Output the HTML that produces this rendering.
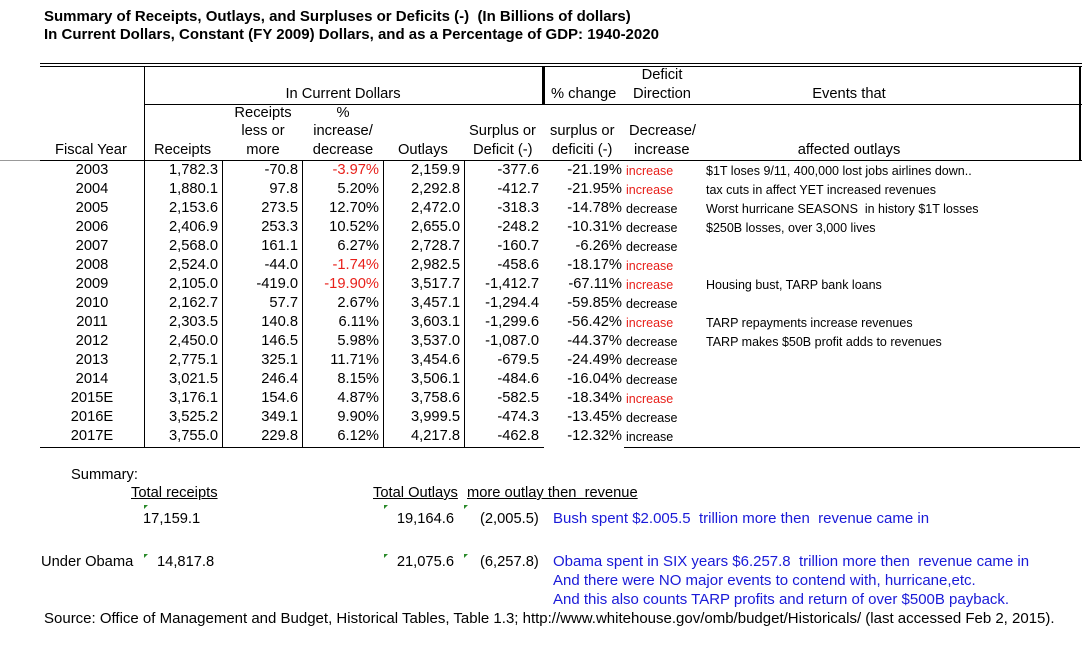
<!DOCTYPE html>
<html><head><meta charset="utf-8"><style>
body{margin:0;width:1082px;height:645px;background:#fff;position:relative;overflow:hidden;font-family:"Liberation Sans",Arial,sans-serif;font-size:14.7px;color:#000}
div{position:absolute;white-space:nowrap;line-height:16px}
.r{text-align:right;width:120px}
.c{text-align:center;width:120px}
.red{color:#e8201a}
.ev{font-size:12.5px}
.b{color:#1a1ad8;font-size:15px}
.hl{height:1px;background:#000;line-height:0}
.vl{width:1px;background:#000;line-height:0}
.g{width:0;height:0;border-top:4px solid #2a8a2a;border-right:4px solid transparent;line-height:0}
u{text-decoration:underline}
</style></head><body>
<div style="left:44px;top:9px;font-weight:bold;font-size:15px">Summary of Receipts, Outlays, and Surpluses or Deficits (-)&nbsp; (In Billions of dollars)</div>
<div style="left:44px;top:27px;font-weight:bold;font-size:15px">In Current Dollars, Constant (FY 2009) Dollars, and as a Percentage of GDP: 1940-2020</div>

<div class="hl" style="left:40px;top:63px;width:1042px"></div>
<div class="hl" style="left:40px;top:66px;width:1042px"></div>
<div class="hl" style="left:144px;top:104px;width:938px"></div>
<div class="hl" style="left:0;top:160px;width:40px;background:#999"></div>
<div class="hl" style="left:40px;top:160px;width:1042px"></div>
<div class="vl" style="left:144px;top:66px;height:381px"></div>
<div class="vl" style="left:542px;top:66px;height:39px;width:3px"></div>
<div class="vl" style="left:1079px;top:66px;height:94px;width:2px"></div>

<div class="c" style="left:283px;top:86px">In Current Dollars</div>
<div class="c" style="left:602px;top:67px">Deficit</div>
<div style="left:551px;top:86px">% change</div>
<div style="left:633px;top:86px">Direction</div>
<div class="c" style="left:789px;top:86px">Events that</div>
<div class="c" style="left:203px;top:105px">Receipts</div>
<div class="c" style="left:203px;top:123px">less or</div>
<div class="c" style="left:203px;top:142px">more</div>
<div class="c" style="left:283px;top:105px">%</div>
<div class="c" style="left:283px;top:123px">increase/</div>
<div class="c" style="left:283px;top:142px">decrease</div>
<div style="left:55px;top:142px">Fiscal Year</div>
<div style="left:154px;top:142px">Receipts</div>
<div style="left:398px;top:142px">Outlays</div>
<div style="left:469px;top:123px">Surplus or</div>
<div style="left:473px;top:142px">Deficit (-)</div>
<div style="left:550px;top:123px">surplus or</div>
<div style="left:552px;top:142px">deficiti (-)</div>
<div style="left:629px;top:123px">Decrease/</div>
<div style="left:634px;top:142px">increase</div>
<div class="c" style="left:789px;top:142px">affected outlays</div>

<div class="hl" style="left:40px;top:447px;width:504px"></div>
<div class="hl" style="left:624px;top:447px;width:456px"></div>
<div class="vl" style="left:222px;top:161px;height:286px"></div>
<div class="vl" style="left:302px;top:161px;height:286px"></div>
<div class="vl" style="left:383px;top:161px;height:286px"></div>
<div class="vl" style="left:464px;top:161px;height:286px"></div>

<div id="rows"></div>
<script>
var d=[
["2003","1,782.3","-70.8","-3.97%",1,"2,159.9","-377.6","-21.19%","increase",1,"$1T loses 9/11, 400,000 lost jobs airlines down.."],
["2004","1,880.1","97.8","5.20%",0,"2,292.8","-412.7","-21.95%","increase",1,"tax cuts in affect YET increased revenues"],
["2005","2,153.6","273.5","12.70%",0,"2,472.0","-318.3","-14.78%","decrease",0,"Worst hurricane SEASONS&nbsp; in history $1T losses"],
["2006","2,406.9","253.3","10.52%",0,"2,655.0","-248.2","-10.31%","decrease",0,"$250B losses, over 3,000 lives"],
["2007","2,568.0","161.1","6.27%",0,"2,728.7","-160.7","-6.26%","decrease",0,""],
["2008","2,524.0","-44.0","-1.74%",1,"2,982.5","-458.6","-18.17%","increase",1,""],
["2009","2,105.0","-419.0","-19.90%",1,"3,517.7","-1,412.7","-67.11%","increase",1,"Housing bust, TARP bank loans"],
["2010","2,162.7","57.7","2.67%",0,"3,457.1","-1,294.4","-59.85%","decrease",0,""],
["2011","2,303.5","140.8","6.11%",0,"3,603.1","-1,299.6","-56.42%","increase",1,"TARP repayments increase revenues"],
["2012","2,450.0","146.5","5.98%",0,"3,537.0","-1,087.0","-44.37%","decrease",0,"TARP makes $50B profit adds to revenues"],
["2013","2,775.1","325.1","11.71%",0,"3,454.6","-679.5","-24.49%","decrease",0,""],
["2014","3,021.5","246.4","8.15%",0,"3,506.1","-484.6","-16.04%","decrease",0,""],
["2015E","3,176.1","154.6","4.87%",0,"3,758.6","-582.5","-18.34%","increase",1,""],
["2016E","3,525.2","349.1","9.90%",0,"3,999.5","-474.3","-13.45%","decrease",0,""],
["2017E","3,755.0","229.8","6.12%",0,"4,217.8","-462.8","-12.32%","increase",0,""]];
var h="";
d.forEach(function(r,i){var t=162+i*19;
h+='<div class="c" style="left:32px;top:'+t+'px">'+r[0]+'</div>';
h+='<div class="r" style="left:98px;top:'+t+'px">'+r[1]+'</div>';
h+='<div class="r" style="left:178px;top:'+t+'px">'+r[2]+'</div>';
h+='<div class="r'+(r[4]?' red':'')+'" style="left:259px;top:'+t+'px">'+r[3]+'</div>';
h+='<div class="r" style="left:340px;top:'+t+'px">'+r[5]+'</div>';
h+='<div class="r" style="left:419px;top:'+t+'px">'+r[6]+'</div>';
h+='<div class="r" style="left:502px;top:'+t+'px">'+r[7]+'</div>';
h+='<div class="ev'+(r[9]?' red':'')+'" style="left:626px;top:'+(t+1)+'px">'+r[8]+'</div>';
h+='<div class="ev" style="left:706px;top:'+(t+1)+'px">'+r[10]+'</div>';});
document.getElementById("rows").innerHTML=h;
</script>

<div style="left:71px;top:467px">Summary:</div>
<div style="left:131px;top:485px"><u>Total receipts</u></div>
<div style="left:373px;top:485px"><u>Total Outlays</u></div>
<div style="left:467px;top:485px"><u>more outlay then&nbsp; revenue</u></div>
<div class="g" style="left:144px;top:505px"></div>
<div class="g" style="left:384px;top:505px"></div>
<div class="g" style="left:464px;top:505px"></div>
<div style="left:143px;top:511px">17,159.1</div>
<div class="r" style="left:334px;top:511px">19,164.6</div>
<div style="left:480px;top:511px">(2,005.5)</div>
<div class="b" style="left:553px;top:511px">Bush spent $2.005.5&nbsp; trillion more then&nbsp; revenue came in</div>
<div style="left:41px;top:554px">Under Obama</div>
<div class="g" style="left:144px;top:554px"></div>
<div class="g" style="left:384px;top:554px"></div>
<div class="g" style="left:464px;top:554px"></div>
<div style="left:157px;top:554px">14,817.8</div>
<div class="r" style="left:334px;top:554px">21,075.6</div>
<div style="left:480px;top:554px">(6,257.8)</div>
<div class="b" style="left:553px;top:554px">Obama spent in SIX years $6.257.8&nbsp; trillion more then&nbsp; revenue came in</div>
<div class="b" style="left:553px;top:573px">And there were NO major events to contend with, hurricane,etc.</div>
<div class="b" style="left:553px;top:592px">And this also counts TARP profits and return of over $500B payback.</div>
<div style="left:44px;top:611px;font-size:15px">Source: Office of Management and Budget, Historical Tables, Table 1.3; http://www.whitehouse.gov/omb/budget/Historicals/ (last accessed Feb 2, 2015).</div>
</body></html>
